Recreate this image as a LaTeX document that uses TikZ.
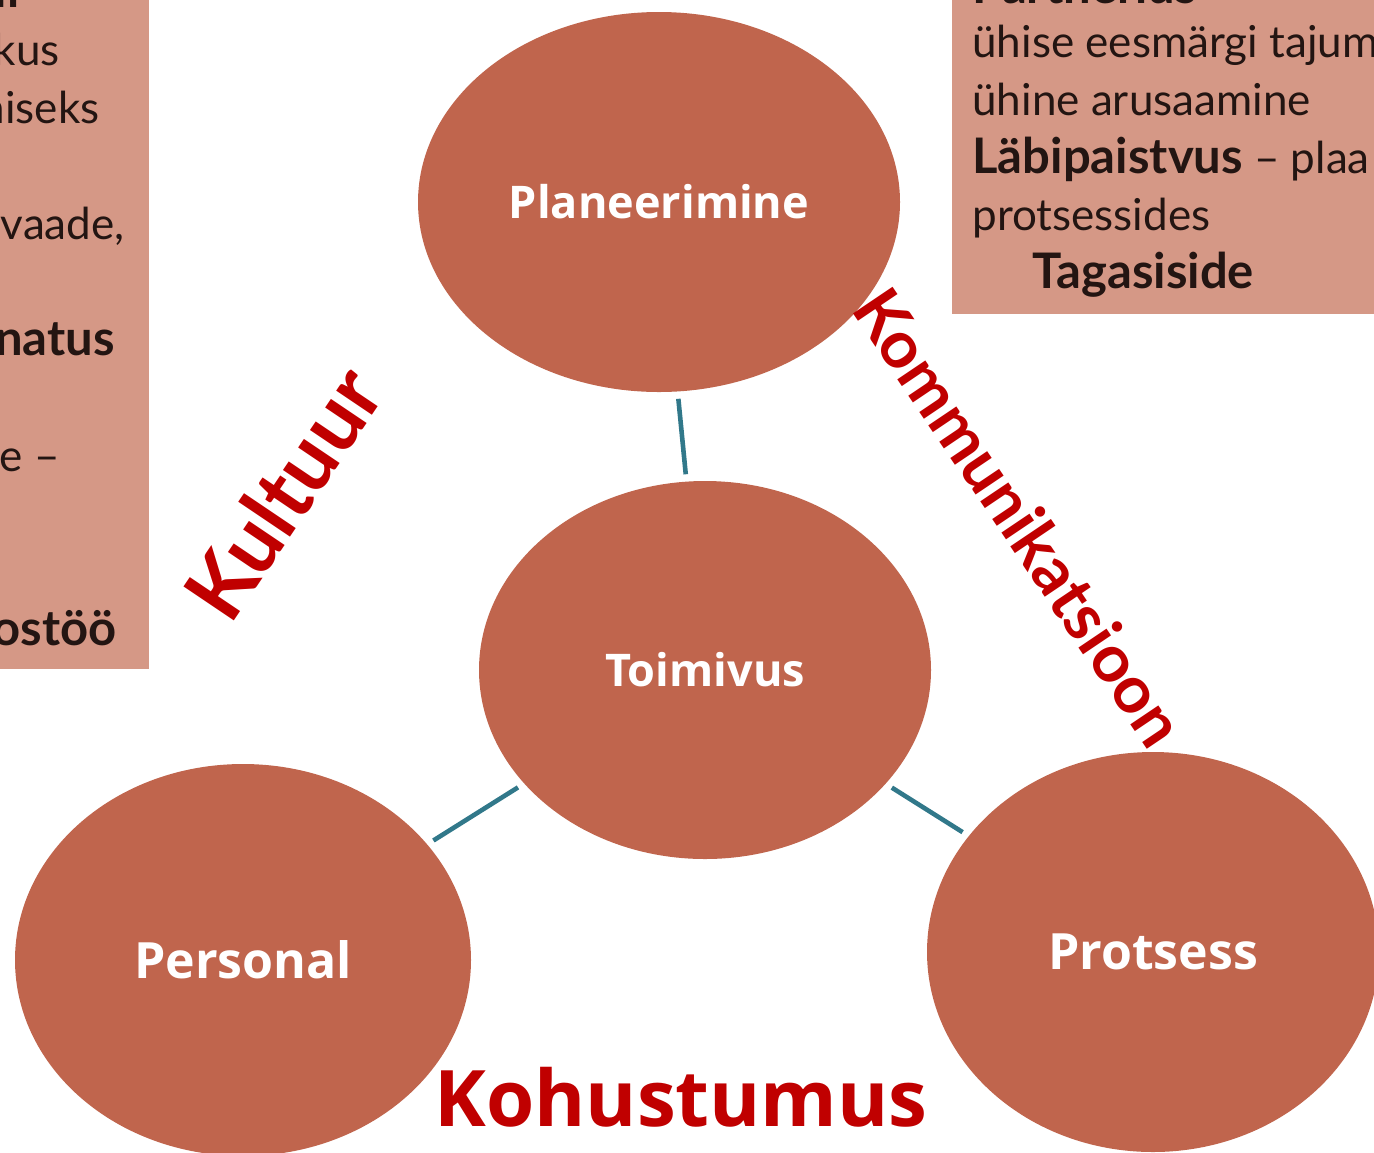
\documentclass[tikz,border=0pt]{standalone}
\usepackage{fontspec}
\setmainfont{Lato}
\newfontfamily\labelfont{Open Sans}
\usetikzlibrary{shapes.geometric}
\definecolor{mbrick}{RGB}{192,101,77}
\definecolor{mpink}{RGB}{213,152,134}
\definecolor{mteal}{RGB}{49,120,138}
\definecolor{mred}{RGB}{192,0,0}
\definecolor{mdark}{RGB}{35,21,18}
\tikzset{blob/.style = {ellipse, fill = mbrick, inner sep = 0, text = white,
                        font = \labelfont\bfseries\fontsize{22.5}{27}\selectfont}}
\tikzset{bigblob/.style = {blob, font = \labelfont\bfseries\fontsize{25}{30}\selectfont}}
\tikzset{link/.style = {mteal, line width = 2.3pt, shorten <= 3.5pt, shorten >= 3.5pt}}
\tikzset{boxtext/.style = {text = mdark, inner sep = 0, font = \fontsize{22}{26}\selectfont}}
\tikzset{boldtext/.style = {boxtext, font = \bfseries\fontsize{24.5}{29}\selectfont}}
\tikzset{theme/.style = {text = mred, inner sep = 0, font = \bfseries\fontsize{33}{40}\selectfont}}

\begin{document}
\begin{tikzpicture}[x = 0.5pt, y = -0.5pt]
      \useasboundingbox (0, 0) rectangle (1374, 1152);
      \fill [mpink] (-10, -10) rectangle (149, 669);
      \fill [mpink] (952, -10) rectangle (1384, 314);
      \node [blob, minimum width = 241pt, minimum height = 190pt] (plan) at (659, 202) {Planeerimine};
      \node [blob, minimum width = 226pt, minimum height = 189pt] (toim) at (705, 670) {Toimivus};
      \node [bigblob, minimum width = 228pt, minimum height = 196pt] (pers) at (243, 960) {Personal};
      \node [bigblob, minimum width = 226pt, minimum height = 200pt] (prot) at (1153, 952) {Protsess};
      \draw [link] (plan) -- (toim);
      \draw [link] (toim) -- (pers);
      \draw [link] (toim) -- (prot);
      \node [boldtext, anchor = base east] (l1) at (20, 7) {il};
      \node [boxtext, anchor = base east] (l2) at (60, 65) {kus};
      \node [boxtext, anchor = base east] (l3) at (100, 123) {hiseks};
      \node [boxtext, anchor = base east] (l4) at (125, 239) {vaade,};
      \node [boldtext, anchor = base east] (l5) at (115, 355) {natus};
      \node [boxtext, anchor = base east] (l6) at (60, 471) {e --};
      \node [boldtext, anchor = base east] (l7) at (117, 645) {ostöö};
      \node [boldtext, anchor = base west] (r1) at (972, 3) {Partnerlus};
      \node [boxtext, anchor = base west] (r2) at (972, 57) {ühise eesmärgi tajum};
      \node [boxtext, anchor = base west] (r3) at (972, 115) {ühine arusaamine};
      \node [boxtext, anchor = base west] (r4) at (972, 173) {{\bfseries\fontsize{24.5}{29}\selectfont Läbipaistvus} -- plaa};
      \node [boxtext, anchor = base west] (r5) at (972, 230) {protsessides};
      \node [boldtext, anchor = base west] (r6) at (1032, 288) {Tagasiside};
      \node [theme, rotate = 56, font = \bfseries\fontsize{42}{50}\selectfont] (kult) at (283, 493) {Kultuur};
      \node [theme, rotate = -56] (komm) at (1020, 517) {Kommunikatsioon};
      \node [theme, anchor = base, font = \labelfont\bfseries\fontsize{39}{46}\selectfont] (kohu) at (681, 1126) {Kohustumus};
    \end{tikzpicture}
\end{document}
